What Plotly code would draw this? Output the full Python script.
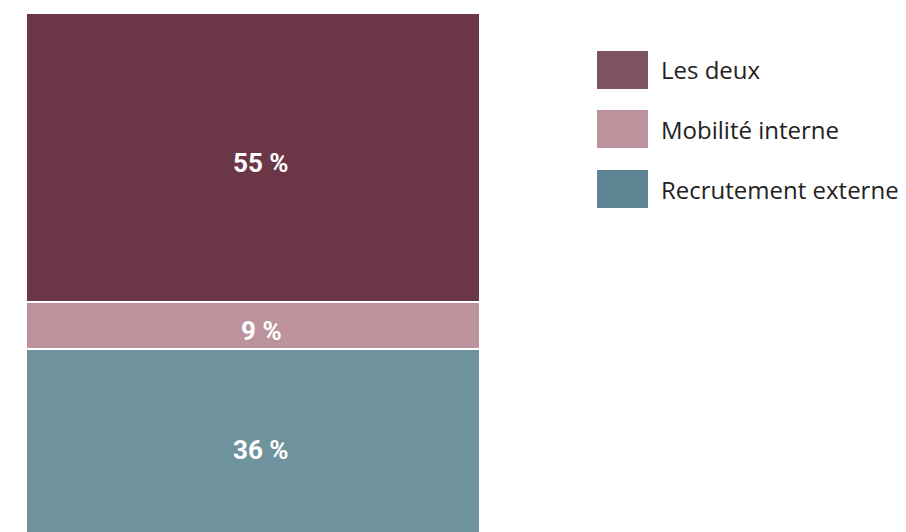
import plotly.graph_objects as go

categories = ["Recrutement externe", "Mobilité interne", "Les deux"]
values = [36, 9, 55]
bar_colors = ["#6f939d", "#bc939c", "#6b3645"]
legend_colors = ["#5f8594", "#bc939c", "#7d5360"]

W, H = 906, 532
OFF = 8  # page body margin offset

fig = go.Figure()
cum = 0
for cat, val, col in zip(categories, values, bar_colors):
    fig.add_trace(go.Bar(
        x=[""], y=[val], name=cat, width=1,
        marker=dict(color=col, line=dict(color="white", width=2)),
        showlegend=False, hoverinfo="skip",
    ))
    fig.add_annotation(x=0, y=cum + val / 2, xref="x", yref="y",
                       text=f"{val} %", showarrow=False, yshift=-6, xshift=8,
                       font=dict(color="white", size=26, family="Roboto", weight="bold"))
    cum += val

# legend drawn in paper coordinates (top to bottom: Les deux, Mobilité, Recrutement)
legend_tops = [51 - OFF, 110 - OFF, 170 - OFF]
for i, (cat, col) in enumerate(zip(categories[::-1], legend_colors[::-1])):
    y0 = legend_tops[i]
    fig.add_shape(type="rect", xref="paper", yref="paper",
                  x0=(597 - OFF) / W, x1=(648 - OFF) / W,
                  y0=1 - (y0 + 38) / H, y1=1 - y0 / H,
                  fillcolor=col, line=dict(width=0))
    fig.add_annotation(xref="paper", yref="paper", x=(659 - OFF) / W, y=1 - (y0 + 19) / H,
                       text=cat, showarrow=False, xanchor="left", yanchor="middle",
                       font=dict(size=24, color="#222222", family="Open Sans"))

fig.update_layout(
    width=W, height=H, barmode="stack",
    margin=dict(l=0, r=0, t=0, b=0),
    paper_bgcolor="white", plot_bgcolor="white",
    xaxis=dict(domain=[(26 - OFF) / W, (480 - OFF) / W], range=[-0.5, 0.5],
               visible=False, fixedrange=True),
    yaxis=dict(domain=[0, 1 - (13 - OFF) / H], range=[-0.38, 100],
               visible=False, fixedrange=True),
)

fig.write_html("out.html")
